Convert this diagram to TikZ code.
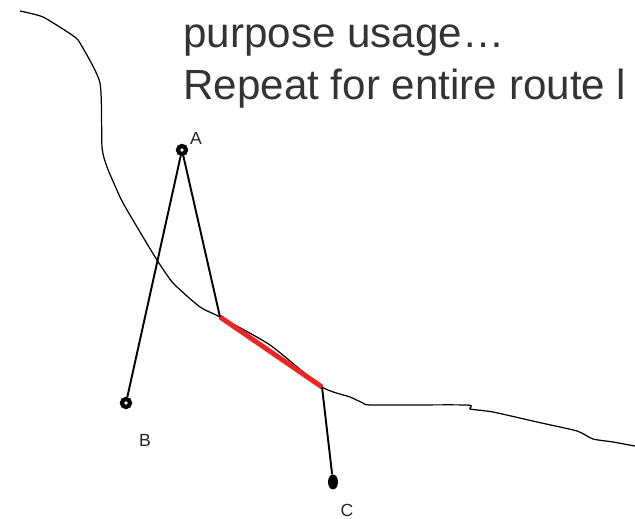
\documentclass[tikz,border=0pt]{standalone}
\usepackage{fontspec}
\setmainfont{Liberation Sans}
\usetikzlibrary{shapes.geometric}

\definecolor{notegray}{HTML}{333333}
\definecolor{matchred}{HTML}{EE2424}

\begin{document}
\begin{tikzpicture}[x=0.02cm, y=-0.02cm,
    stop/.style={circle, draw, line width=2.4pt, fill=white, inner sep=0pt, minimum size=0.16cm},
    leg/.style={line width=1.1pt},
    lbl/.style={text=black!85, font=\fontsize{10}{11}\selectfont},
    note/.style={anchor=base west, inner sep=0pt, text=notegray, font=\fontsize{24}{29}\selectfont}]
    \useasboundingbox (0,0) rectangle (635,519);
    \clip (0,0) rectangle (635,519);

    % Draw the route
    \draw[line width=0.7pt, line join=round] plot[smooth, tension=0.35] coordinates {
        (20,11) (43,17) (72,35) (80,43) (100,83) (102,147) (107,167)
        (120,197) (127,210) (143,237) (157,260) (173,283) (200,307) (220,317)
        (270,345) (322,387) (350,397) (363,403) (372,405) (467,405) (470,409)
        (493,412) (537,422) (577,431) (593,439) (613,442) (640,447)};

    % Draw the matched part of the route
    \coordinate (P) at (220,317);
    \coordinate (Q) at (322,387);
    \draw[matchred, line width=2.8pt] (P) -- (Q);

    % Draw the stops and their links to the route
    \node[stop] (A) at (182,150) {};
    \node[stop] (B) at (126,403) {};
    \node[ellipse, fill, inner sep=0pt, minimum width=0.2cm, minimum height=0.3cm] (C) at (333,482) {};
    \draw[leg] (A) -- (B);
    \draw[leg] (A) -- (P);
    \draw[leg] (Q) -- (C);
    \node[lbl] (labA) at (196,138) {A};
    \node[lbl] (labB) at (145,440) {B};
    \node[lbl] (labC) at (347,510) {C};

    % Notes
    \node[note] (note1) at (183,48) {purpose usage…};
    \node[note] (note2) at (183,100) {Repeat for entire route l};
\end{tikzpicture}
\end{document}
